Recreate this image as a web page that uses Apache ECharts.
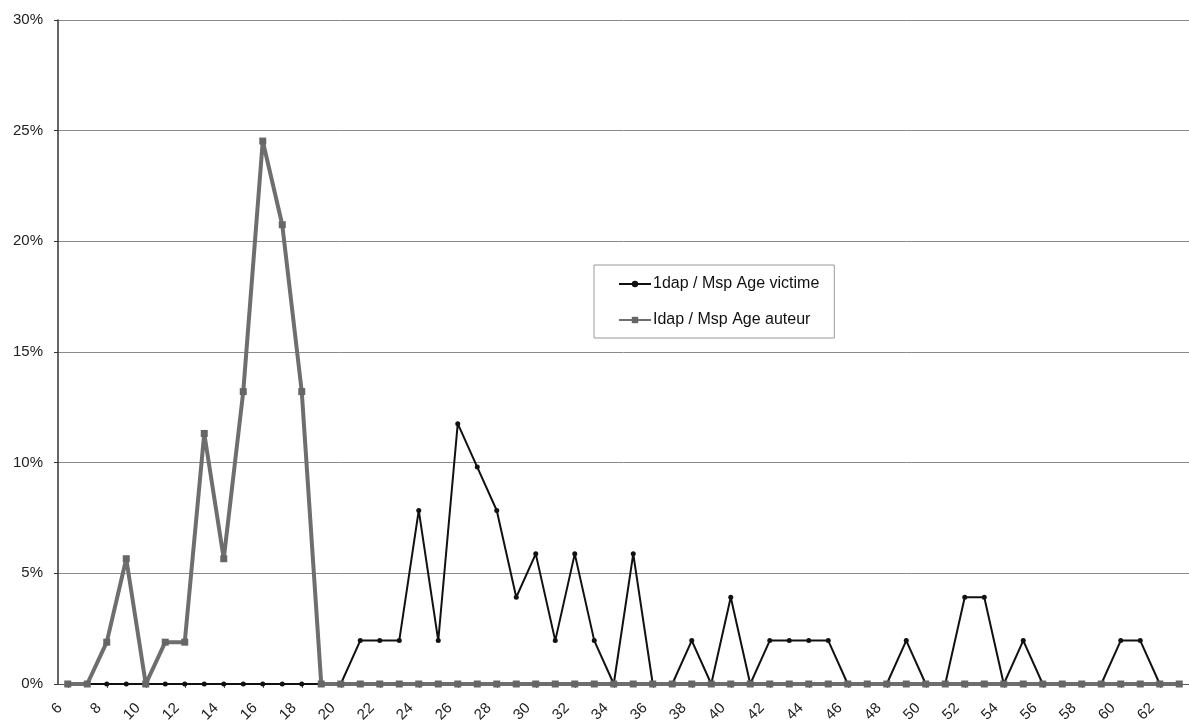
<!DOCTYPE html>
<html>
<head>
<meta charset="utf-8">
<script src="https://cdn.jsdelivr.net/npm/echarts@6/dist/echarts.min.js"></script>
<style>
html,body{margin:0;padding:0;background:#fff;}
#chart{width:1189px;height:725px;}
</style>
</head>
<body>
<div id="chart"></div>
<script>
// Ages (categories)
const ages = ['6','7','8','9','10','11','12','13','14','15','16','17','18','19','20',
  '21','22','23','24','25','26','27','28','29','30','31','32','33','34','35','36','37','38','39','40',
  '41','42','43','44','45','46','47','48','49','50','51','52','53','54','55','56','57','58','59','60',
  '61','62','63'];

// Idap / Msp Age victime (%)
const victime = [0,0,0,0,0,0,0,0,0,0,0,0,0,0,0,
  1.96,1.96,1.96,7.84,1.96,11.76,9.80,7.84,3.92,5.88,1.96,5.88,1.96,0,5.88,0,0,1.96,0,3.92,
  0,1.96,1.96,1.96,1.96,0,0,0,1.96,0,0,3.92,3.92,0,1.96,0,0,0,0,1.96,
  1.96,0,0];

// Idap / Msp Age auteur (%)
const auteur = [0,0,1.89,5.66,0,1.89,1.89,11.32,5.66,13.21,24.53,20.75,13.21,0,0,
  0,0,0,0,0,0,0,0,0,0,0,0,0,0,0,0,0,0,0,0,
  0,0,0,0,0,0,0,0,0,0,0,0,0,0,0,0,0,0,0,0,
  0,0,0];

const yTicks = [0, 5, 10, 15, 20, 25, 30];

const chart = echarts.init(document.getElementById('chart'), null, {renderer: 'canvas'});
chart.setOption({
  animation: false,
  backgroundColor: '#ffffff',
  textStyle: {fontFamily: 'Liberation Sans, Arial, sans-serif'},
  grid: {left: 58, right: -5, top: 20, bottom: 40, containLabel: false},
  legend: {
    orient: 'vertical',
    left: 594,
    top: 265,
    padding: [11, 15, 10, 24],
    itemGap: 20,
    itemWidth: 32,
    itemHeight: 8,
    backgroundColor: '#fff',
    borderColor: '#999',
    borderWidth: 1,
    borderRadius: 0,
    textStyle: {fontSize: 16, color: '#111', padding: [0, 0, 0, -3], fontFamily: 'Liberation Sans, Arial, sans-serif'},
    data: ['1dap / Msp Age victime', 'Idap / Msp Age auteur']
  },
  xAxis: {
    type: 'category',
    data: ages,
    boundaryGap: true,
    axisLine: {show: true, lineStyle: {color: '#555', width: 1}},
    axisTick: {show: true, alignWithLabel: true, length: 4, lineStyle: {color: '#555'}},
    axisLabel: {
      interval: 1,
      rotate: 45,
      fontSize: 15,
      color: '#222',
      margin: 14,
      padding: [0, 11, 0, 0]
    },
    splitLine: {show: false}
  },
  yAxis: {
    type: 'value',
    min: yTicks[0],
    max: yTicks[yTicks.length - 1],
    interval: 5,
    axisLine: {show: true, lineStyle: {color: '#333', width: 1.5}},
    axisTick: {show: true, length: 4, lineStyle: {color: '#333'}},
    axisLabel: {
      formatter: '{value}%',
      fontSize: 15,
      color: '#222',
      margin: 15
    },
    splitLine: {show: true, lineStyle: {color: '#8a8a8a', width: 1}}
  },
  series: [
    {
      name: '1dap / Msp Age victime',
      type: 'line',
      data: victime,
      symbol: 'circle',
      symbolSize: 5,
      lineStyle: {color: '#111', width: 2},
      itemStyle: {color: '#111'},
      z: 2
    },
    {
      name: 'Idap / Msp Age auteur',
      type: 'line',
      data: auteur,
      symbol: 'rect',
      symbolSize: 7,
      lineStyle: {color: '#6e6e6e', width: 4},
      itemStyle: {color: '#666'},
      z: 3
    }
  ]
});
</script>
</body>
</html>
